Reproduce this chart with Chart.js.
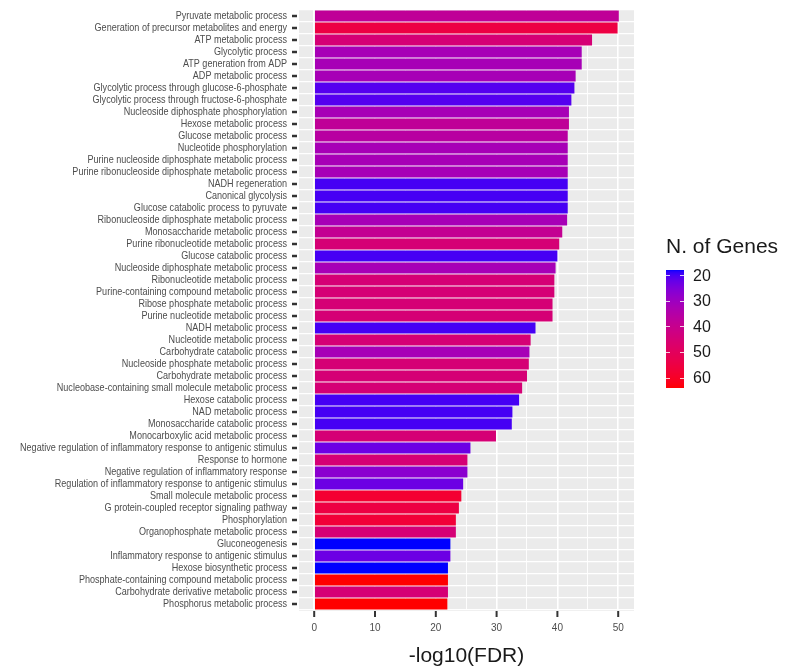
<!DOCTYPE html>
<html lang="en">
<head>
<meta charset="UTF-8">
<title>GO enrichment</title>
<script src="https://cdn.jsdelivr.net/npm/chart.js"></script>
<style>
  body { margin: 0; background: #ffffff; }
  canvas { display: block; }
</style>
</head>
<body>
<canvas id="goChart" width="787" height="671"></canvas>
<script>
// Data (top to bottom)
const categories = [
  "Pyruvate metabolic process",
  "Generation of precursor metabolites and energy",
  "ATP metabolic process",
  "Glycolytic process",
  "ATP generation from ADP",
  "ADP metabolic process",
  "Glycolytic process through glucose-6-phosphate",
  "Glycolytic process through fructose-6-phosphate",
  "Nucleoside diphosphate phosphorylation",
  "Hexose metabolic process",
  "Glucose metabolic process",
  "Nucleotide phosphorylation",
  "Purine nucleoside diphosphate metabolic process",
  "Purine ribonucleoside diphosphate metabolic process",
  "NADH regeneration",
  "Canonical glycolysis",
  "Glucose catabolic process to pyruvate",
  "Ribonucleoside diphosphate metabolic process",
  "Monosaccharide metabolic process",
  "Purine ribonucleotide metabolic process",
  "Glucose catabolic process",
  "Nucleoside diphosphate metabolic process",
  "Ribonucleotide metabolic process",
  "Purine-containing compound metabolic process",
  "Ribose phosphate metabolic process",
  "Purine nucleotide metabolic process",
  "NADH metabolic process",
  "Nucleotide metabolic process",
  "Carbohydrate catabolic process",
  "Nucleoside phosphate metabolic process",
  "Carbohydrate metabolic process",
  "Nucleobase-containing small molecule metabolic process",
  "Hexose catabolic process",
  "NAD metabolic process",
  "Monosaccharide catabolic process",
  "Monocarboxylic acid metabolic process",
  "Negative regulation of inflammatory response to antigenic stimulus",
  "Response to hormone",
  "Negative regulation of inflammatory response",
  "Regulation of inflammatory response to antigenic stimulus",
  "Small molecule metabolic process",
  "G protein-coupled receptor signaling pathway",
  "Phosphorylation",
  "Organophosphate metabolic process",
  "Gluconeogenesis",
  "Inflammatory response to antigenic stimulus",
  "Hexose biosynthetic process",
  "Phosphate-containing compound metabolic process",
  "Carbohydrate derivative metabolic process",
  "Phosphorus metabolic process"
];

const logFdr = [
  50.1, 49.9, 45.7, 44.0, 44.0, 43.0, 42.8, 42.3, 41.9, 41.9,
  41.7, 41.7, 41.7, 41.7, 41.7, 41.7, 41.7, 41.6, 40.8, 40.3,
  40.0, 39.7, 39.5, 39.5, 39.2, 39.2, 36.4, 35.6, 35.4, 35.3,
  35.0, 34.2, 33.7, 32.6, 32.5, 29.9, 25.7, 25.2, 25.2, 24.5,
  24.2, 23.8, 23.3, 23.3, 22.4, 22.4, 22.0, 22.0, 22.0, 21.9
];

const geneCounts = [
  38, 55, 45, 32, 32, 32, 21, 21, 32, 38,
  36, 32, 32, 32, 20, 20, 20, 32, 39, 45,
  20, 32, 45, 45, 45, 45, 20, 45, 32, 45,
  45, 45, 20, 20, 20, 45, 23, 45, 27, 23,
  58, 55, 57, 45, 18, 23, 18, 64, 45, 64
];

const geneRange = [18, 64];
const legendTicks = [20, 30, 40, 50, 60];
const xTitle = "-log10(FDR)";
const legendTitle = "N. of Genes";

const mainFont = "'Liberation Sans', Arial, sans-serif";

// blue -> red gradient, mixed in Lab like ggplot's scale_fill_gradient
function toLinear(c) {
  c /= 255;
  return c <= 0.04045 ? c / 12.92 : Math.pow((c + 0.055) / 1.055, 2.4);
}
function fromLinear(c) {
  c = c <= 0.0031308 ? 12.92 * c : 1.055 * Math.pow(c, 1 / 2.4) - 0.055;
  return Math.round(Math.min(1, Math.max(0, c)) * 255);
}
function rgbToLab([r, g, b]) {
  r = toLinear(r); g = toLinear(g); b = toLinear(b);
  const x = (0.4124 * r + 0.3576 * g + 0.1805 * b) / 0.95047;
  const y = 0.2126 * r + 0.7152 * g + 0.0722 * b;
  const z = (0.0193 * r + 0.1192 * g + 0.9505 * b) / 1.08883;
  const f = (t) => (t > 0.008856 ? Math.cbrt(t) : 7.787 * t + 16 / 116);
  return [116 * f(y) - 16, 500 * (f(x) - f(y)), 200 * (f(y) - f(z))];
}
function labToRgb([L, a, bb]) {
  const fy = (L + 16) / 116;
  const fx = fy + a / 500;
  const fz = fy - bb / 200;
  const inv = (t) => (t * t * t > 0.008856 ? t * t * t : (t - 16 / 116) / 7.787);
  const x = inv(fx) * 0.95047, y = inv(fy), z = inv(fz) * 1.08883;
  const r = 3.2406 * x - 1.5372 * y - 0.4986 * z;
  const g = -0.9689 * x + 1.8758 * y + 0.0415 * z;
  const b = 0.0557 * x - 0.2040 * y + 1.0570 * z;
  return [fromLinear(r), fromLinear(g), fromLinear(b)];
}
const lowLab = rgbToLab([0, 0, 255]);
const highLab = rgbToLab([255, 0, 0]);
function geneColor(n) {
  const t = Math.min(1, Math.max(0, (n - geneRange[0]) / (geneRange[1] - geneRange[0])));
  const lab = lowLab.map((v, i) => v + (highLab[i] - v) * t);
  const [r, g, b] = labToRgb(lab);
  return `rgb(${r}, ${g}, ${b})`;
}

// grey panel behind the bars
const panelBg = {
  id: "panelBg",
  beforeDraw(chart) {
    const { ctx, chartArea: a } = chart;
    ctx.save();
    ctx.fillStyle = "#EBEBEB";
    ctx.fillRect(a.left, a.top - 1, a.width, a.height + 2);
    ctx.restore();
  }
};

// category labels (squeezed like the original), tick marks, axis title, colour bar
const extras = {
  id: "extras",
  afterDraw(chart) {
    const { ctx, chartArea: a, scales } = chart;
    ctx.save();

    // y labels, narrowed horizontally so the longest one fits
    ctx.font = `11px ${mainFont}`;
    ctx.fillStyle = "#4D4D4D";
    ctx.textAlign = "right";
    ctx.textBaseline = "middle";
    const widest = Math.max(...categories.map((c) => ctx.measureText(c).width));
    const squeeze = Math.min(1, 267 / widest);
    const labelRight = a.left - 12;
    scales.y.ticks.forEach((t, i) => {
      const y = scales.y.getPixelForTick(i);
      ctx.save();
      ctx.translate(labelRight, y);
      ctx.scale(squeeze, 1);
      ctx.fillText(categories[i], 0, 0);
      ctx.restore();
    });

    ctx.strokeStyle = "#333333";
    ctx.lineWidth = 2.5;
    scales.y.ticks.forEach((t, i) => {
      const y = scales.y.getPixelForTick(i);
      ctx.beginPath();
      ctx.moveTo(a.left - 7, y);
      ctx.lineTo(a.left - 2, y);
      ctx.stroke();
    });

    ctx.lineWidth = 2;
    scales.x.ticks.forEach((t) => {
      if (t.value % 10 !== 0) return;
      const x = scales.x.getPixelForValue(t.value);
      ctx.beginPath();
      ctx.moveTo(x, a.bottom + 1);
      ctx.lineTo(x, a.bottom + 7);
      ctx.stroke();
    });

    // x axis title
    ctx.fillStyle = "#1A1A1A";
    ctx.font = `21px ${mainFont}`;
    ctx.textAlign = "center";
    ctx.textBaseline = "middle";
    ctx.fillText(xTitle, (a.left + a.right) / 2, 656);

    // legend
    const barX = 666, barW = 18, barTop = 270, barH = 118;
    ctx.textAlign = "left";
    ctx.textBaseline = "alphabetic";
    ctx.font = `21px ${mainFont}`;
    ctx.fillText(legendTitle, 666, 253);

    const toY = (v) => barTop + ((v - geneRange[0]) / (geneRange[1] - geneRange[0])) * barH;
    for (let i = 0; i < barH; i++) {
      const v = geneRange[0] + ((i + 0.5) / barH) * (geneRange[1] - geneRange[0]);
      ctx.fillStyle = geneColor(v);
      ctx.fillRect(barX, barTop + i, barW, 1);
    }
    ctx.strokeStyle = "rgba(255,255,255,0.8)";
    ctx.lineWidth = 1;
    ctx.font = `16px ${mainFont}`;
    ctx.textBaseline = "middle";
    ctx.fillStyle = "#1A1A1A";
    legendTicks.forEach((v) => {
      const y = Math.round(toY(v)) + 0.5;
      ctx.beginPath();
      ctx.moveTo(barX, y); ctx.lineTo(barX + 4, y);
      ctx.moveTo(barX + barW - 4, y); ctx.lineTo(barX + barW, y);
      ctx.stroke();
      ctx.fillText(String(v), 693, toY(v) + 1);
    });
    ctx.restore();
  }
};

new Chart(document.getElementById("goChart"), {
  type: "bar",
  data: {
    labels: categories,
    datasets: [{
      data: logFdr,
      backgroundColor: geneCounts.map(geneColor),
      borderWidth: 0,
      barPercentage: 0.9,
      categoryPercentage: 1.0
    }]
  },
  options: {
    indexAxis: "y",
    responsive: false,
    animation: false,
    devicePixelRatio: 1,
    layout: { padding: { top: 10, right: 153, bottom: 0, left: 0 } },
    plugins: {
      legend: { display: false },
      tooltip: { enabled: false }
    },
    scales: {
      x: {
        min: -2.5,
        max: 52.6,
        border: { display: false },
        grid: {
          color: "#FFFFFF",
          lineWidth: (c) => (c.tick && c.tick.value % 10 === 0 ? 1.6 : 0.9),
          drawTicks: false
        },
        ticks: {
          stepSize: 5,
          includeBounds: false,
          autoSkip: false,
          maxRotation: 0,
          padding: 12,
          color: "#4D4D4D",
          font: { size: 10, family: mainFont },
          callback: (v) => (v % 10 === 0 ? v : "")
        },
        afterFit(scale) { scale.height = 61; }
      },
      y: {
        border: { display: false },
        grid: {
          offset: true,
          color: "#FFFFFF",
          lineWidth: 1.2,
          drawTicks: false
        },
        ticks: { display: false, autoSkip: false },
        afterFit(scale) { scale.width = 299; }
      }
    }
  },
  plugins: [panelBg, extras]
});
</script>
</body>
</html>
